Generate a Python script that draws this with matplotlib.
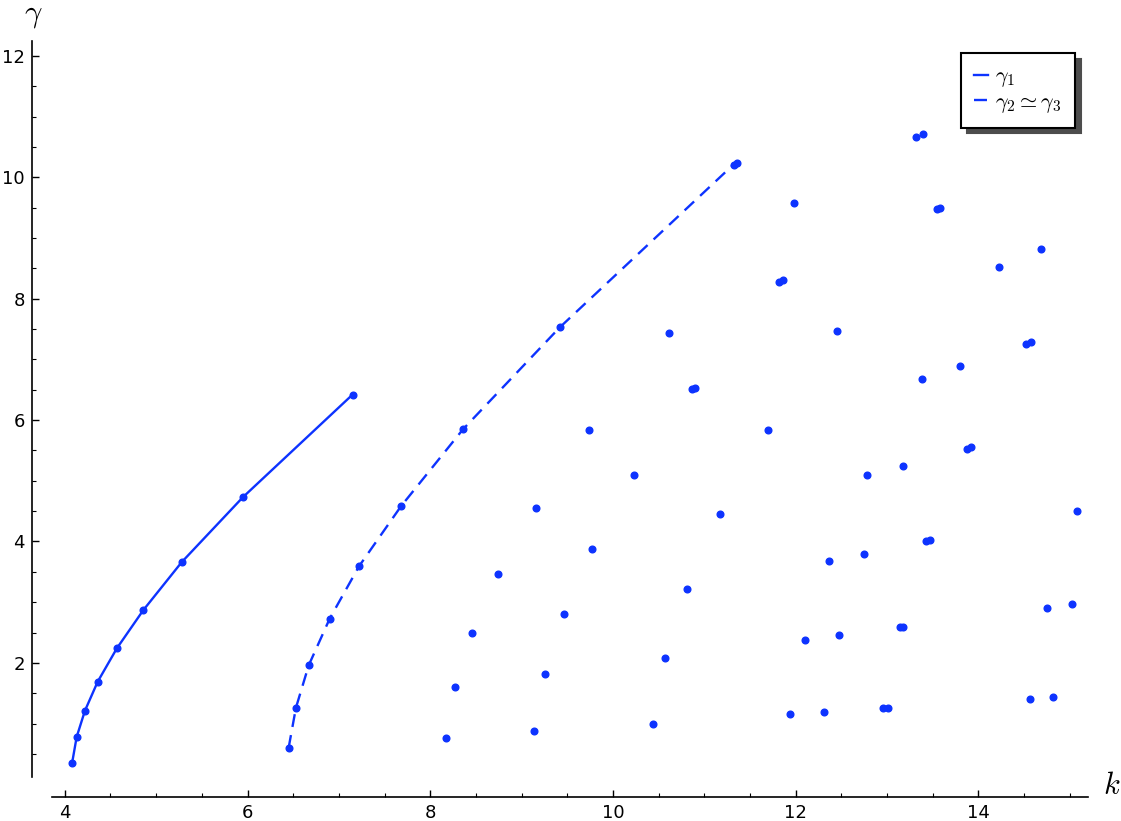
import matplotlib
matplotlib.use("Agg")
import matplotlib.pyplot as plt
from matplotlib.ticker import MultipleLocator

plt.rcParams['mathtext.fontset'] = 'cm'

# gamma_1 branch (solid)
k1 = [4.08, 4.13, 4.22, 4.36, 4.57, 4.86, 5.28, 5.95, 7.15]
g1 = [0.35, 0.78, 1.21, 1.69, 2.24, 2.87, 3.66, 4.73, 6.42]

# gamma_2 ~ gamma_3 branch (dashed)
k2 = [6.45, 6.53, 6.67, 6.90, 7.22, 7.68, 8.36, 9.42, 11.32]
g2 = [0.60, 1.26, 1.96, 2.73, 3.59, 4.58, 5.85, 7.53, 10.21]

# isolated points
k_pts = [8.17, 8.27, 8.46, 8.74, 9.155, 9.14, 9.26, 9.46, 9.775, 9.74,
         10.23, 10.61, 10.44, 10.57, 10.81, 10.87, 10.90, 11.17, 11.70, 11.82,
         11.86, 11.98, 11.94, 12.10, 12.31, 12.37, 12.45, 12.47, 12.75, 12.78,
         12.96, 13.01, 13.18, 13.14, 13.17, 13.32, 13.39, 13.38, 13.43, 13.47,
         13.55, 13.58, 13.80, 13.88, 13.92, 14.23, 14.56, 14.52, 14.58, 14.69,
         14.75, 14.82, 15.02, 15.08, 11.36]
g_pts = [0.77, 1.61, 2.50, 3.47, 4.55, 0.87, 1.81, 2.80, 3.88, 5.83,
         5.09, 7.43, 1.00, 2.08, 3.21, 6.51, 6.53, 4.45, 5.83, 8.27,
         8.30, 9.58, 1.15, 2.38, 1.19, 3.68, 7.46, 2.46, 3.80, 5.09,
         1.25, 1.25, 5.25, 2.59, 2.59, 10.66, 10.72, 6.68, 4.00, 4.02,
         9.48, 9.50, 6.89, 5.53, 5.55, 8.53, 1.41, 7.25, 7.28, 8.82,
         2.91, 1.44, 2.97, 4.50, 10.23]

blue = '#0d33ff'

fig = plt.figure(figsize=(11.21, 8.21), dpi=100)
W, H = 1121, 821
ax = fig.add_axes([52 / W, 1 - 777 / H, (1088 - 52) / W, (777 - 40.7) / H])

ax.plot(k1, g1, '-', color=blue, lw=1.7, marker='o', ms=4.8, label=r'$\gamma_1$')
ax.plot(k2, g2, color=blue, lw=1.7, ls=(0, (5.5, 3.5)), marker='o', ms=4.8,
        label=r'$\gamma_2 \simeq \gamma_3$')
ax.plot(k_pts, g_pts, 'o', color=blue, ms=4.8, ls='none')

ax.set_xlim(3.86, 15.2)
ax.set_ylim(0.12, 12.25)

for s in ['top', 'right']:
    ax.spines[s].set_visible(False)
for s in ['left', 'bottom']:
    ax.spines[s].set_position(('outward', 14.4))
    ax.spines[s].set_linewidth(1.2)

ax.xaxis.set_major_locator(MultipleLocator(2))
ax.xaxis.set_minor_locator(MultipleLocator(0.5))
ax.yaxis.set_major_locator(MultipleLocator(2))
ax.yaxis.set_minor_locator(MultipleLocator(0.5))
ax.tick_params(which='major', direction='in', length=5, width=1, labelsize=13, pad=5)
ax.tick_params(which='minor', direction='in', length=3, width=0.8)

ax.text((1112 - 52) / 1036, (777 - 785) / 736.3, '$k$', transform=ax.transAxes,
        fontsize=22, ha='center', va='center', clip_on=False)
ax.text((33 - 52) / 1036, (777 - 15) / 736.3, r'$\gamma$', transform=ax.transAxes,
        fontsize=22, ha='center', va='center', clip_on=False)

leg = ax.legend(loc='upper right', bbox_to_anchor=((1075 - 52) / 1036, (777 - 53) / 736.3),
                borderaxespad=0, fontsize=16, handlelength=0.6, handletextpad=0.35,
                borderpad=0.6, labelspacing=0.1, fancybox=False, framealpha=1,
                shadow={'ox': 4, 'oy': -4, 'alpha': 1.0})
leg.get_frame().set_edgecolor('black')
leg.get_frame().set_linewidth(1.5)
for h in leg.get_lines():
    h.set_marker('')

fig.savefig('out.png', dpi=100)
